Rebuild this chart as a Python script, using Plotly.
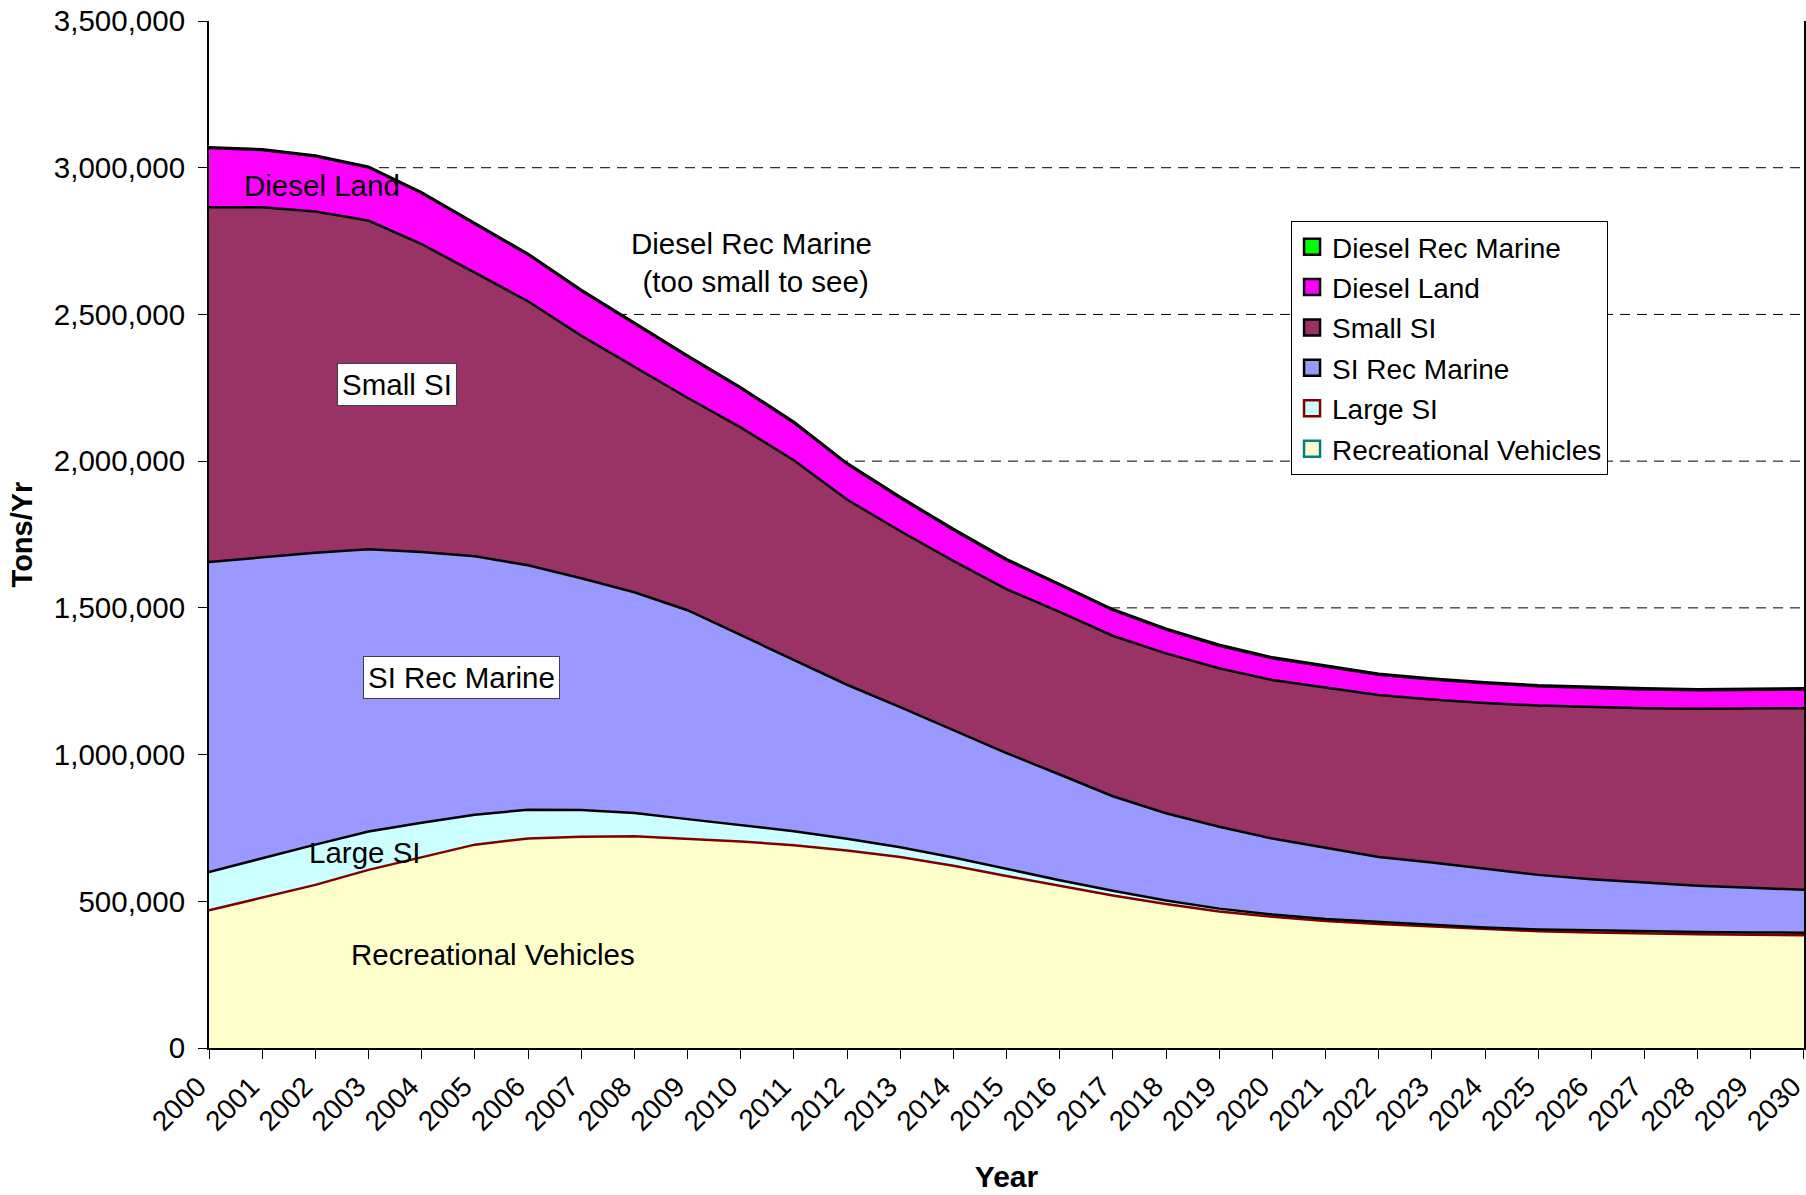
import plotly.graph_objects as go

# ---------------- data (tons per year) ----------------
years = list(range(2000, 2031))

recreational_vehicles = [469000, 512000, 556000, 607000, 651000, 693000, 714000, 720000, 722000, 714000,
                         704000, 691000, 673000, 651000, 621000, 586000, 552000, 520000, 491000, 465000,
                         447000, 433000, 423000, 414000, 405000, 398000, 394000, 390000, 388000, 386000,
                         384000]
large_si = [131000, 135000, 137000, 131000, 117000, 102000, 98000, 91000, 79000, 66000,
            56000, 48000, 40000, 33000, 28000, 24000, 20000, 16000, 12000, 10000,
            8000, 7000, 6000, 6000, 6000, 6000, 7000, 7000, 7000, 8000,
            9000]
si_rec_marine = [1056000, 1025000, 995000, 962000, 922000, 881000, 833000, 790000, 752000, 712000,
                 647000, 582000, 525000, 478000, 435000, 395000, 360000, 322000, 297000, 279000,
                 259000, 242000, 222000, 212000, 199000, 186000, 174000, 166000, 158000, 152000,
                 146000]
small_si = [1209000, 1193000, 1163000, 1120000, 1050000, 967000, 900000, 827000, 769000, 724000,
            708000, 682000, 631000, 600000, 576000, 559000, 554000, 547000, 545000, 540000,
            540000, 546000, 552000, 556000, 566000, 577000, 587000, 595000, 603000, 611000,
            619000]
diesel_land = [202000, 195000, 188000, 181000, 173000, 166000, 159000, 153000, 147000, 141000,
               134000, 128000, 121000, 113000, 106000, 99000, 92000, 87000, 81000, 77000,
               74000, 71000, 69000, 68000, 67000, 66000, 65000, 64000, 63000, 63000,
               64000]
diesel_rec_marine = [2600, 2600, 2700, 2700, 2800, 2800, 2900, 2900, 2900, 3000,
                     3000, 3000, 3100, 3100, 3100, 3200, 3200, 3200, 3300, 3300,
                     3300, 3400, 3400, 3400, 3500, 3500, 3500, 3600, 3600, 3600,
                     3700]

series_names = ["Recreational Vehicles", "Large SI", "SI Rec Marine", "Small SI",
                "Diesel Land", "Diesel Rec Marine"]
series_values = [recreational_vehicles, large_si, si_rec_marine, small_si,
                 diesel_land, diesel_rec_marine]
fill_colors = ["#FFFFCC", "#CCFFFF", "#9999FF", "#993366", "#FF00FF", "#00FF00"]
border_colors = ["#008080", "#800000", "#000000", "#000000", "#000000", "#000000"]

y_ticks = [0, 500000, 1000000, 1500000, 2000000, 2500000, 3000000, 3500000]
grid_values = [500000, 1000000, 1500000, 2000000, 2500000, 3000000]

FONT = "Liberation Sans, Arial, sans-serif"
ANN_SIZE = 29.5

fig = go.Figure()

# stacked areas (the boundary line of each layer takes the colour of the layer above it,
# as in the original where each area outline covers its lower edge)
for i, (name, vals) in enumerate(zip(series_names, series_values)):
    line_col = border_colors[i + 1] if i + 1 < len(border_colors) else "#000000"
    fig.add_trace(go.Scatter(
        x=years, y=vals, name=name, stackgroup="one", mode="lines",
        line=dict(color=line_col, width=2.5),
        fillcolor=fill_colors[i], showlegend=False, hoverinfo="x+y+name",
    ))

# legend entries (square swatches), top to bottom as in the original
for i in reversed(range(len(series_names))):
    fig.add_trace(go.Scatter(
        x=[None], y=[None], mode="markers", name=series_names[i],
        legendgroup=series_names[i],
        marker=dict(symbol="square", size=18, color=fill_colors[i],
                    line=dict(color=border_colors[i] if i < 2 else "#000000", width=2.5)),
        showlegend=True,
    ))

shapes = [dict(type="line", xref="paper", yref="y", x0=0, x1=1, y0=g, y1=g,
               line=dict(color="#000000", width=1, dash="10px,7px"), layer="below")
          for g in grid_values]

annotations = [
    dict(text="Diesel Land", x=0.0708, y=0.8403, showarrow=False),
    dict(text="Small SI", x=0.1179, y=0.6456, showarrow=False, bgcolor="white",
         bordercolor="#404040", borderwidth=1, borderpad=4),
    dict(text="SI Rec Marine", x=0.1586, y=0.3612, showarrow=False, bgcolor="white",
         bordercolor="#404040", borderwidth=1, borderpad=4),
    dict(text="Large SI", x=0.0978, y=0.1908, showarrow=False),
    dict(text="Recreational Vehicles", x=0.1781, y=0.0915, showarrow=False),
    dict(text="Diesel Rec Marine<br> (too small to see)", x=0.3404, y=0.7644, showarrow=False),
]
for a in annotations:
    a.update(xref="paper", yref="paper", xanchor="center", yanchor="middle",
             font=dict(family=FONT, size=ANN_SIZE, color="black"))

fig.update_layout(
    width=1806, height=1195,
    margin=dict(l=209, r=2, t=21, b=147, autoexpand=False),
    paper_bgcolor="white", plot_bgcolor="white",
    font=dict(family=FONT, size=28, color="black"),
    showlegend=True,
    legend=dict(x=0.6784, y=0.8053, xanchor="left", yanchor="top",
                bgcolor="white", bordercolor="#000000", borderwidth=1,
                font=dict(family=FONT, size=28, color="black"),
                traceorder="grouped", tracegroupgap=1),
    shapes=shapes,
    annotations=annotations,
    xaxis=dict(
        range=[1999.9999, 2030.0001], tickmode="array", tickvals=years,
        ticktext=[str(y) for y in years], automargin=False, ticklabeloverflow="allow",
        ticklabelshift=-11,
        tickangle=-45, ticks="outside", ticklen=9, tickcolor="#000000", tickwidth=1,
        showline=True, linecolor="#000000", linewidth=2, showgrid=False, zeroline=False,
        tickfont=dict(family=FONT, size=28, color="black"),
        title=dict(text="<b>Year</b>", font=dict(family=FONT, size=30, color="black"), standoff=30),
    ),
    yaxis=dict(
        range=[0, 3500000], tickmode="array", tickvals=y_ticks, tickformat=",",
        automargin=False, ticklabelstandoff=7,
        ticks="outside", ticklen=9, tickcolor="#000000", tickwidth=1,
        showline=True, linecolor="#000000", linewidth=2, mirror=True,
        showgrid=False, zeroline=False,
        tickfont=dict(family=FONT, size=29.5, color="black"),
        title=dict(text="<b>Tons/Yr</b>", font=dict(family=FONT, size=29, color="black"), standoff=13),
    ),
)

# remove the browser's default 8px page margin so the figure fills the window exactly
fig.write_html("out.html", config={"displayModeBar": False},
               post_script="document.body.style.margin='0px';")
